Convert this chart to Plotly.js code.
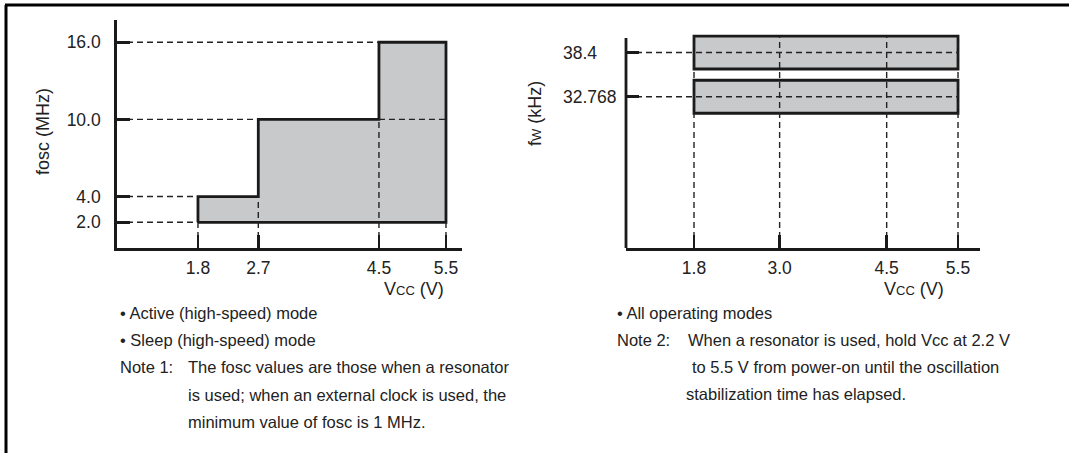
<!DOCTYPE html>
<html>
<head>
<meta charset="utf-8">
<script src="https://cdn.plot.ly/plotly-3.0.1.min.js"></script>
<style>
  html, body { margin: 0; padding: 0; background: #fff; }
  #chart { width: 1069px; height: 453px; }
</style>
</head>
<body>
<div id="chart"></div>
<script>
// left chart: fosc operating area
const vccSteps = [1.8, 2.7, 4.5, 5.5];
const foscTop = [4.0, 10.0, 16.0];   // upper limit between vccSteps[i] and vccSteps[i+1]
const foscMin = 2.0;
const foscTicks = [2.0, 4.0, 10.0, 16.0];

// right chart: fW operating area
const vccTicksW = [1.8, 3.0, 4.5, 5.5];
const fwValues = [38.4, 32.768];
const fwVccMin = 1.8;
const fwVccMax = 5.5;

const W = 1069, H = 453;
const px = v => v / W;
const py = v => 1 - v / H;

const grey = '#c8c9cb';
const ink = '#1a1a1a';
const font = 'Liberation Sans, Arial, Helvetica, sans-serif';
const dashStyle = { color: '#222', width: 1.4, dash: '6px,4px' };

const xRange1 = [0.592, 5.739];
const yRange1 = [0, 17.73];
const xRange2 = [0.847, 5.808];
const yRange2 = [13.5, 40.76];
const bandWidth = 4.2;

// step polygon
const polyX = [vccSteps[0]];
const polyY = [foscMin];
foscTop.forEach((top, i) => {
    polyX.push(vccSteps[i], vccSteps[i + 1]);
    polyY.push(top, top);
});
polyX.push(vccSteps[vccSteps.length - 1], vccSteps[0]);
polyY.push(foscMin, foscMin);

// dashed guide lines, left
const dashX1 = [], dashY1 = [];
function seg(xs, ys, x0, y0, x1, y1) { xs.push(x0, x1, null); ys.push(y0, y1, null); }
seg(dashX1, dashY1, xRange1[0], foscMin, vccSteps[0], foscMin);
foscTop.forEach((top, i) => seg(dashX1, dashY1, xRange1[0], top, vccSteps[i], top));
seg(dashX1, dashY1, vccSteps[2], foscTop[1], vccSteps[3], foscTop[1]);
seg(dashX1, dashY1, vccSteps[0], yRange1[0], vccSteps[0], foscMin);
seg(dashX1, dashY1, vccSteps[1], yRange1[0], vccSteps[1], foscTop[0]);
seg(dashX1, dashY1, vccSteps[2], yRange1[0], vccSteps[2], foscTop[1]);
seg(dashX1, dashY1, vccSteps[3], yRange1[0], vccSteps[3], foscMin);

// dashed guide lines, right
const dashX2 = [], dashY2 = [];
fwValues.forEach(f => seg(dashX2, dashY2, xRange2[0], f, fwVccMax, f));
vccTicksW.forEach(v => seg(dashX2, dashY2, v, yRange2[0], v, Math.max(...fwValues) + bandWidth / 2));

const traces = [
    {
        x: polyX, y: polyY, type: 'scatter', mode: 'lines', fill: 'toself',
        fillcolor: grey, line: { color: ink, width: 2.8 }, hoverinfo: 'skip',
        xaxis: 'x', yaxis: 'y'
    },
    {
        x: dashX1, y: dashY1, type: 'scatter', mode: 'lines',
        line: dashStyle, hoverinfo: 'skip', xaxis: 'x', yaxis: 'y'
    },
    {
        y: fwValues, x: fwValues.map(() => fwVccMax - fwVccMin), base: fwVccMin,
        type: 'bar', orientation: 'h', width: bandWidth,
        marker: { color: grey, line: { color: ink, width: 2.8 } },
        hoverinfo: 'skip', xaxis: 'x2', yaxis: 'y2'
    },
    {
        x: dashX2, y: dashY2, type: 'scatter', mode: 'lines',
        line: dashStyle, hoverinfo: 'skip', xaxis: 'x2', yaxis: 'y2'
    }
];

const tickFont = { family: font, size: 17.5, color: '#222' };
const titleFont = { family: font, size: 18, color: '#222' };
const noteFont = { family: font, size: 16.5, color: '#222' };

const axisBase = {
    showgrid: false, zeroline: false, showline: true, linecolor: ink, linewidth: 2.8,
    ticks: 'inside', tickcolor: ink, tickwidth: 2.8, ticklen: 13,
    tickfont: tickFont, fixedrange: true
};

function note(x, y, text, f) {
    return {
        xref: 'paper', yref: 'paper', x: px(x), y: py(y), text: text,
        showarrow: false, xanchor: 'left', yanchor: 'middle', font: f || noteFont
    };
}

const vccTitle = 'V<span style="font-size:13px">CC</span> (V)';

const annotations = [
    note(118, 313, '• Active (high-speed) mode'),
    note(118, 340, '• Sleep (high-speed) mode'),
    note(118, 367, 'Note 1:'),
    note(186, 367, 'The fosc values are those when a resonator'),
    note(186, 395, 'is used; when an external clock is used, the'),
    note(186, 422, 'minimum value of fosc is 1 MHz.'),
    note(615, 313, '• All operating modes'),
    note(615, 340, 'Note 2:'),
    note(686, 340, 'When a resonator is used, hold Vcc at 2.2 V'),
    note(690, 367, 'to 5.5 V from power-on until the oscillation'),
    note(684, 394, 'stabilization time has elapsed.'),
    {
        xref: 'paper', yref: 'paper', x: px(446), y: py(289), xanchor: 'right', yanchor: 'middle',
        text: vccTitle, showarrow: false, font: titleFont
    },
    {
        xref: 'paper', yref: 'paper', x: px(946), y: py(289), xanchor: 'right', yanchor: 'middle',
        text: vccTitle, showarrow: false, font: titleFont
    },
    {
        xref: 'paper', yref: 'paper', x: px(43), y: py(132), xanchor: 'center', yanchor: 'middle',
        text: 'fosc (MHz)', textangle: -90, showarrow: false, font: titleFont
    },
    {
        xref: 'paper', yref: 'paper', x: px(535), y: py(114), xanchor: 'center', yanchor: 'middle',
        text: 'f<span style="font-size:13px">W</span> (kHz)', textangle: -90, showarrow: false, font: titleFont
    }
];
fwValues.forEach(f => annotations.push({
    xref: 'paper', yref: 'y2', x: px(561), y: f, xanchor: 'left', yanchor: 'middle',
    text: String(f), showarrow: false, font: tickFont
}));

const layout = {
    width: W, height: H,
    margin: { l: 0, r: 0, t: 0, b: 0 },
    paper_bgcolor: '#fff', plot_bgcolor: 'rgba(0,0,0,0)',
    showlegend: false,
    xaxis: Object.assign({}, axisBase, {
        domain: [px(117), px(462)], range: xRange1, anchor: 'y',
        tickvals: vccSteps, ticktext: vccSteps.map(v => v.toFixed(1)), ticklabelstandoff: 2
    }),
    yaxis: Object.assign({}, axisBase, {
        domain: [1 - 248 / H, 1 - 20 / H], range: yRange1, anchor: 'x',
        tickvals: foscTicks, ticktext: foscTicks.map(v => v.toFixed(1)), ticklabelstandoff: 10
    }),
    xaxis2: Object.assign({}, axisBase, {
        domain: [px(626), px(980)], range: xRange2, anchor: 'y2',
        tickvals: vccTicksW, ticktext: vccTicksW.map(v => v.toFixed(1)), ticklabelstandoff: 2
    }),
    yaxis2: Object.assign({}, axisBase, {
        domain: [1 - 248 / H, 1 - 34 / H], range: yRange2, anchor: 'x2',
        showline: false, tickvals: fwValues, showticklabels: false
    }),
    annotations: annotations,
    shapes: [
        { type: 'line', xref: 'paper', yref: 'paper', x0: px(5), x1: 1, y0: py(5), y1: py(5),
          line: { color: '#000', width: 3 } },
        { type: 'line', xref: 'paper', yref: 'paper', x0: px(6), x1: px(6), y0: 0, y1: py(5),
          line: { color: '#000', width: 3 } },
        { type: 'line', xref: 'x2 domain', yref: 'y2 domain', x0: 0, x1: 0, y0: 0, y1: (248 - 38) / (248 - 34),
          line: { color: ink, width: 2.8 } }
    ]
};

Plotly.newPlot('chart', traces, layout, { staticPlot: true, displayModeBar: false });
</script>
</body>
</html>
